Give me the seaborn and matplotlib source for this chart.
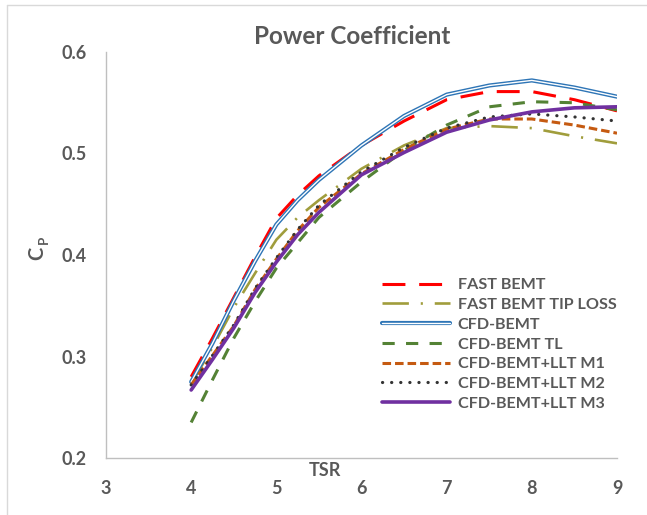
import numpy as np
import pandas as pd
import matplotlib
matplotlib.use("Agg")
import matplotlib.pyplot as plt
from matplotlib.lines import Line2D
import seaborn as sns

# ---- data ----
tsr = [4, 4.25, 4.5, 4.75, 5, 5.25, 5.5, 6, 6.5, 7, 7.5, 8, 8.5, 9]
fast_bemt = [0.280, 0.318, 0.358, 0.398, 0.436, 0.459, 0.478, 0.508, 0.532, 0.553, 0.561, 0.561, 0.553, 0.542]
fast_bemt_tl = [0.273, 0.309, 0.348, 0.382, 0.415, 0.437, 0.454, 0.485, 0.508, 0.525, 0.527, 0.525, 0.517, 0.510]
cfd_bemt = [0.275, 0.313, 0.355, 0.394, 0.430, 0.454, 0.474, 0.508, 0.537, 0.558, 0.567, 0.572, 0.565, 0.556]
cfd_bemt_tl = [0.235, 0.277, 0.318, 0.354, 0.387, 0.412, 0.437, 0.472, 0.503, 0.528, 0.546, 0.551, 0.550, 0.543]
llt_m1 = [0.272, 0.301, 0.330, 0.366, 0.396, 0.424, 0.447, 0.480, 0.504, 0.524, 0.534, 0.534, 0.528, 0.520]
llt_m2 = [0.272, 0.301, 0.331, 0.367, 0.397, 0.425, 0.449, 0.482, 0.506, 0.525, 0.536, 0.539, 0.536, 0.532]
llt_m3 = [0.267, 0.297, 0.328, 0.363, 0.393, 0.420, 0.442, 0.479, 0.501, 0.521, 0.533, 0.541, 0.545, 0.546]

labels = ["FAST BEMT", "FAST BEMT TIP LOSS", "CFD-BEMT", "CFD-BEMT TL",
          "CFD-BEMT+LLT M1", "CFD-BEMT+LLT M2", "CFD-BEMT+LLT M3"]
x_ticks = [3, 4, 5, 6, 7, 8, 9]
y_ticks = [0.2, 0.3, 0.4, 0.5, 0.6]

sns.set_theme(style="white")
plt.rcParams['font.family'] = ['Lato', 'DejaVu Sans']

TXT = '#595959'
W, H = 647, 515
fig = plt.figure(figsize=(W / 100, H / 100), dpi=100)
ax = fig.add_axes([106 / W, 1 - 458 / H, (617 - 106) / W, (458 - 52) / H])

series = [fast_bemt, fast_bemt_tl, cfd_bemt, cfd_bemt_tl, llt_m1, llt_m2, llt_m3]
styles = [
    dict(color='#FF0000', lw=2.2, linestyle=(0, (7.5, 4.5))),
    dict(color='#A09D3C', lw=1.9, linestyle=(0, (10, 4.5, 0.8, 4.5))),
    dict(color='#2E75B6', lw=3.0, linestyle='-'),
    dict(color='#548235', lw=2.2, linestyle=(0, (4, 3.7))),
    dict(color='#C55A11', lw=2.2, linestyle=(0, (2.8, 1.3))),
    dict(color='#333333', lw=2.3, linestyle=(0, (0.05, 2.8)), dash_capstyle='round'),
    dict(color='#7030A0', lw=2.6, linestyle='-'),
]

handles = []
for i, (vals, st, lab) in enumerate(zip(series, styles, labels)):
    df = pd.DataFrame({'TSR': tsr, 'Cp': vals})
    sns.lineplot(data=df, x='TSR', y='Cp', ax=ax, zorder=3 + i, **st)
    h = Line2D([], [], **st)
    if lab == "CFD-BEMT":
        sns.lineplot(data=df, x='TSR', y='Cp', ax=ax, color='white', lw=1.0,
                     zorder=3 + i)
        h = (h, Line2D([], [], color='white', lw=1.0))
    handles.append(h)

ax.set_xlim(3, 9)
ax.set_ylim(0.2, 0.6)
ax.set_xticks(x_ticks)
ax.set_yticks(y_ticks)
ax.set_xticklabels([str(t) for t in x_ticks])
ax.set_yticklabels([f"{t:.1f}" for t in y_ticks])
ax.tick_params(axis='x', length=0, pad=16, labelsize=13, labelcolor=TXT)
ax.tick_params(axis='y', length=0, pad=14, labelsize=13, labelcolor=TXT)
for lab in ax.get_xticklabels() + ax.get_yticklabels():
    lab.set_fontweight('bold')
for s in ['top', 'right']:
    ax.spines[s].set_visible(False)
for s in ['left', 'bottom']:
    ax.spines[s].set_color('#BFBFBF')
    ax.spines[s].set_linewidth(1.0)
ax.grid(False)
ax.set_xlabel('')
ax.set_ylabel('')

fig.text(325 / W, 1 - 471 / H, 'TSR', ha='center', va='center',
         fontsize=13, fontweight='bold', color=TXT)
fig.text(37 / W, 1 - 253 / H, 'C', ha='center', va='center',
         rotation=90, fontsize=14.5, fontweight='bold', color=TXT)
fig.text(44 / W, 1 - 240 / H, 'P', ha='center', va='center',
         rotation=90, fontsize=9.5, fontweight='bold', color=TXT)
fig.text(352 / W, 1 - 37 / H, 'Power Coefficient', ha='center', va='center',
         fontsize=17.5, fontweight='bold', color=TXT)

leg = fig.legend(handles, labels, loc='upper left',
                 bbox_to_anchor=(382 / W, 1 - 278 / H),
                 frameon=False, fontsize=11.6, handlelength=4.25,
                 handletextpad=0.45, labelspacing=0.34, borderpad=0,
                 borderaxespad=0)
for t in leg.get_texts():
    t.set_color(TXT)
    t.set_fontweight('bold')

# outer chart border (left and top visible in reference)
fig.add_artist(Line2D([6.5 / W, 6.5 / W], [0, 1 - 4.5 / H], color='#D9D9D9', lw=1.0))
fig.add_artist(Line2D([6.5 / W, 1], [1 - 4.5 / H, 1 - 4.5 / H], color='#D9D9D9', lw=1.0))

fig.savefig('out.png', dpi=100)
